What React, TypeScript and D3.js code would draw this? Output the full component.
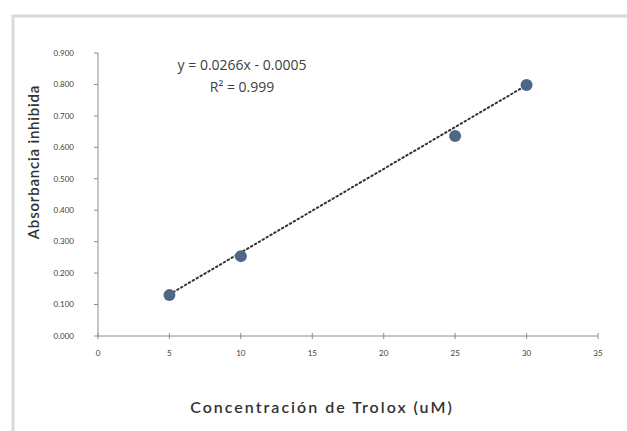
import React from "react";
import * as d3 from "d3";

const concentrations = [5, 10, 25, 30];
const absorbance = [0.13, 0.254, 0.636, 0.798];
const xTicks = [0, 5, 10, 15, 20, 25, 30, 35];
const yTicks = [0, 0.1, 0.2, 0.3, 0.4, 0.5, 0.6, 0.7, 0.8, 0.9];
const slope = 0.0266;
const intercept = -0.0005;
const equationLabel = "y = 0.0266x - 0.0005";
const r2Label = "R² = 0.999";
const xTitle = "Concentración de Trolox (uM)";
const yTitle = "Absorbancia inhibida";

const width = 627;
const height = 431;
const font = "Lato, 'Open Sans', sans-serif";

export default function App() {
  const x = d3.scaleLinear().domain([0, 35]).range([98, 598]);
  const y = d3.scaleLinear().domain([0, 0.9]).range([336, 53]);

  const trend = d3
    .line<number>()
    .x((d) => x(d))
    .y((d) => y(slope * d + intercept));
  const trendExtent = d3.extent(concentrations) as [number, number];

  return (
    <svg
      width={width}
      height={height}
      style={{ position: "absolute", left: 0, top: 0, background: "#fff" }}
    >
      {/* chart frame */}
      <rect x={13} y={16} width={640} height={440} fill="none" stroke="#dadada" strokeWidth={3} />

      {/* axes */}
      <line x1={x(0)} x2={x(0)} y1={y(0)} y2={y(0.9)} stroke="#8c8c8c" />
      <line x1={x(0)} x2={x(35)} y1={y(0)} y2={y(0)} stroke="#8c8c8c" />
      {yTicks.map((t) => (
        <g key={"y" + t}>
          <line x1={x(0) - 4} x2={x(0)} y1={y(t)} y2={y(t)} stroke="#8c8c8c" />
          <text
            x={74}
            y={y(t)}
            dy="0.35em"
            textAnchor="end"
            fontSize={8}
            fontFamily={font}
            fill="#404040"
          >
            {d3.format(".3f")(t)}
          </text>
        </g>
      ))}
      {xTicks.map((t) => (
        <g key={"x" + t}>
          <line x1={x(t)} x2={x(t)} y1={y(0) - 3} y2={y(0) + 3} stroke="#8c8c8c" />
          <text
            x={x(t)}
            y={356}
            textAnchor="middle"
            fontSize={8}
            fontFamily={font}
            fill="#404040"
          >
            {t}
          </text>
        </g>
      ))}

      {/* trendline */}
      <path
        d={trend(trendExtent) ?? ""}
        fill="none"
        stroke="#333"
        strokeWidth={2}
        strokeDasharray="1.5 3"
        strokeLinecap="round"
      />

      {/* data points */}
      {concentrations.map((c, i) => (
        <circle key={c} cx={x(c)} cy={y(absorbance[i])} r={6} fill="#4d6886" />
      ))}

      {/* equation */}
      <text
        x={242}
        y={70}
        textAnchor="middle"
        fontSize={14}
        fontFamily="'Open Sans', sans-serif"
        fill="#404040"
      >
        {equationLabel}
      </text>
      <text
        x={242}
        y={92}
        textAnchor="middle"
        fontSize={14}
        fontFamily="'Open Sans', sans-serif"
        fill="#404040"
      >
        {r2Label}
      </text>

      {/* titles */}
      <text
        x={322}
        y={413}
        textAnchor="middle"
        fontSize={16}
        fontWeight={600}
        letterSpacing={2}
        fontFamily={font}
        fill="#333"
      >
        {xTitle}
      </text>
      <text
        transform={`translate(39,162) rotate(-90)`}
        textAnchor="middle"
        fontSize={15}
        fontWeight={600}
        letterSpacing={0.8}
        fontFamily={font}
        fill="#333"
      >
        {yTitle}
      </text>
    </svg>
  );
}
